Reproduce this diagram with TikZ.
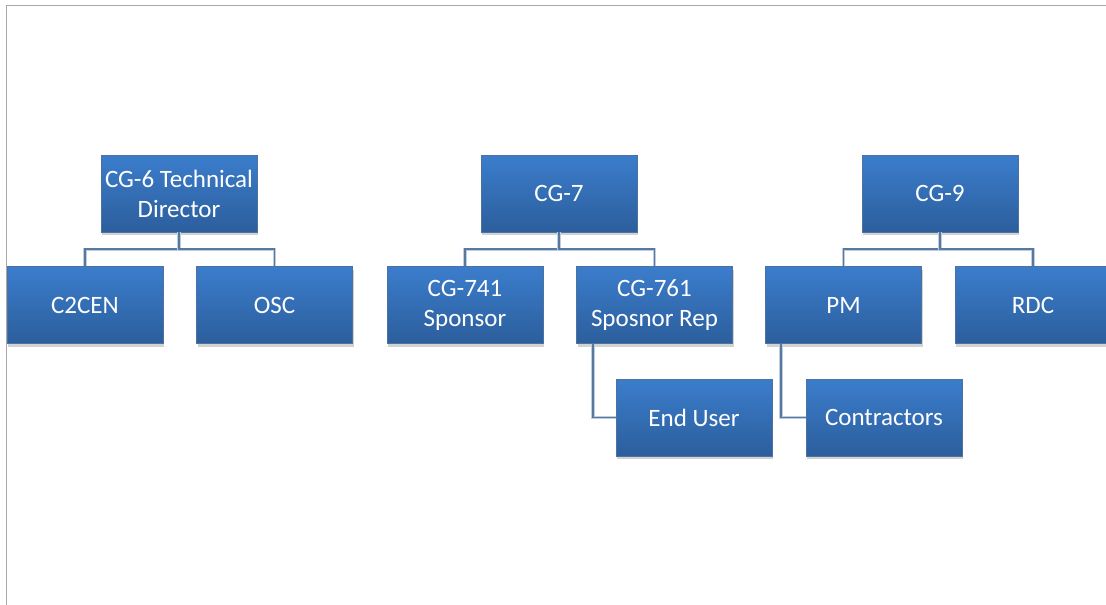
\documentclass[tikz,border=0pt]{standalone}
\usepackage{fontspec}
\setmainfont{Carlito}
\usetikzlibrary{shadows,calc}
\definecolor{boxtop}{HTML}{3B7DCC}
\definecolor{boxbot}{HTML}{2C5E9C}
\definecolor{boxedge}{HTML}{4D72A0}
\definecolor{conn}{HTML}{57799F}
\definecolor{connlight}{HTML}{BFCDE0}
\definecolor{frame}{HTML}{A8A8A8}
\tikzset{
  orgbox/.style={rectangle, minimum width=156pt, minimum height=77pt,
    top color=boxtop, bottom color=boxbot, draw=boxedge, line width=0.6pt,
    text=white, align=center, inner sep=1pt,
    font=\fontsize{25}{30}\selectfont,
    drop shadow={shadow xshift=1pt, shadow yshift=-3pt, opacity=0.25, fill=black!70}},
  link/.style={draw=conn, line width=1.8pt,
    preaction={draw=connlight, line width=3.6pt}}
}
\begin{document}
\begin{tikzpicture}[x=1pt,y=-1pt]
\useasboundingbox (0,0) rectangle (1106,605);
\fill[white] (0,0) rectangle (1106,605);
\draw[frame, line width=1.8pt] (6.5,605) -- (6.5,5.5) -- (1106,5.5);

\node[orgbox] (cg6) at (179,193.5) {CG-6 Technical\\Director};
\node[orgbox] (c2cen) at (85,305) {C2CEN};
\node[orgbox] (osc) at (274.5,305) {OSC};

\node[orgbox] (cg7) at (559,193.5) {CG-7};
\node[orgbox] (cg741) at (465,305) {CG-741\\Sponsor};
\node[orgbox] (cg761) at (654.5,305) {CG-761\\Sposnor Rep};
\node[orgbox] (enduser) at (694,417.5) {End User};

\node[orgbox] (cg9) at (940,193.5) {CG-9};
\node[orgbox] (pm) at (843.5,305) {PM};
\node[orgbox] (rdc) at (1033,305) {RDC};
\node[orgbox] (contr) at (884,417.5) {Contractors};

\foreach \p/\c in {cg6/c2cen, cg6/osc, cg7/cg741, cg7/cg761, cg9/pm, cg9/rdc}
  \draw[link] (\p.south) -- ++(0,17) -| (\c.north);
\draw[link] ($(cg761.south west)+(17,0)$) |- (enduser.west);
\draw[link] ($(pm.south west)+(16,0)$) |- (contr.west);
\end{tikzpicture}
\end{document}
